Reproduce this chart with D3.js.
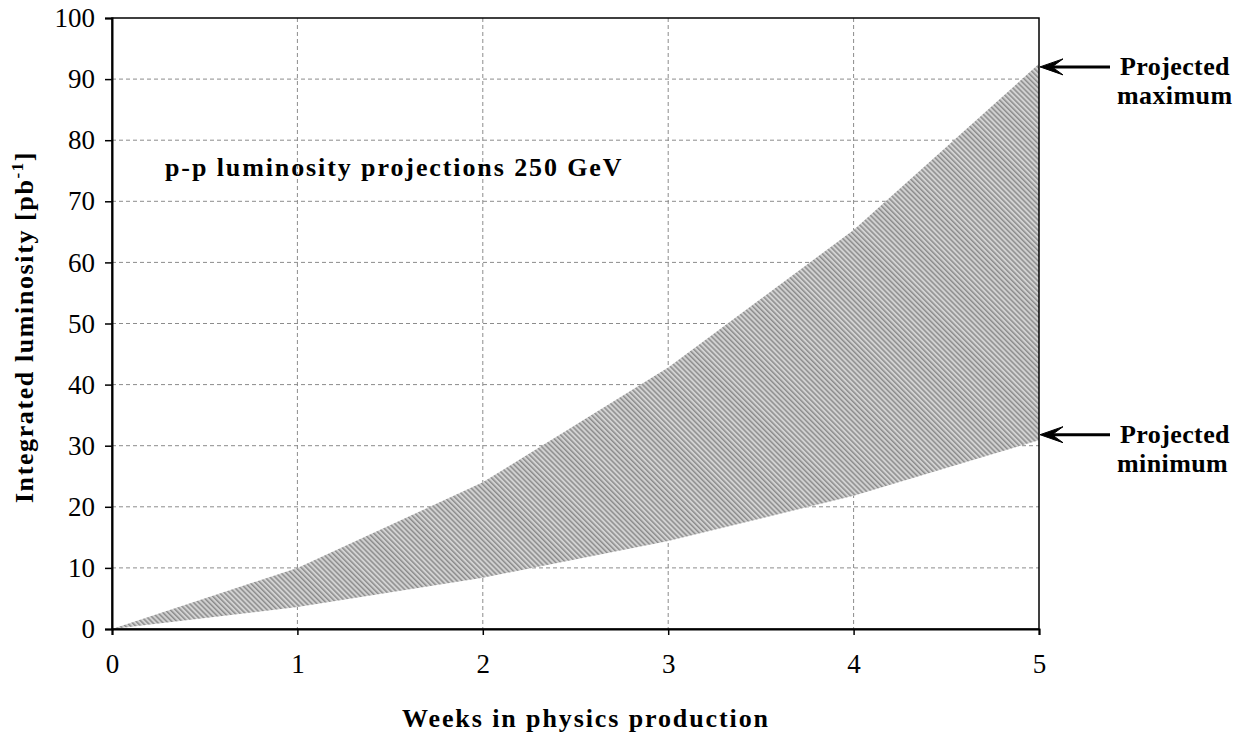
<!DOCTYPE html>
<html>
<head>
<meta charset="utf-8">
<script src="https://cdn.jsdelivr.net/npm/d3@7"></script>
<style>
  body { margin: 0; background: #fff; }
  svg text { font-family: "Liberation Serif", "Times New Roman", serif; }
  .tick text { font-size: 27px; fill: #000; }
  .grid line { stroke: #8c8c8c; stroke-dasharray: 4 3; }
  .bold { font-weight: bold; fill: #000; }
</style>
</head>
<body>
<svg id="chart"></svg>
<script>
// weeks in physics production
const weeks = [0, 1, 2, 3, 4, 5];
// projected luminosity [pb^-1]
const maxLumi = [0, 10, 24, 42.8, 65.3, 92.5];
const minLumi = [0, 3.6, 8.4, 14.4, 21.8, 30.9];
const yTicks = [0, 10, 20, 30, 40, 50, 60, 70, 80, 90, 100];

const W = 1247, H = 738;
const margin = { top: 18, right: 208, bottom: 109, left: 112 };
const width = W - margin.left - margin.right;
const height = H - margin.top - margin.bottom;

const svg = d3.select("#chart").attr("width", W).attr("height", H);

const defs = svg.append("defs");
const pat = defs.append("pattern")
  .attr("id", "hatch")
  .attr("patternUnits", "userSpaceOnUse")
  .attr("width", 3.6).attr("height", 3.6)
  .attr("patternTransform", "rotate(-45)");
pat.append("rect").attr("width", 3.6).attr("height", 3.6).attr("fill", "#d2d2d2");
pat.append("rect").attr("width", 1.5).attr("height", 3.6).attr("fill", "#8c8c8c");

const g = svg.append("g").attr("transform", `translate(${margin.left},${margin.top})`);

const x = d3.scaleLinear().domain([0, 5]).range([0, width]);
const y = d3.scaleLinear().domain([0, 100]).range([height, 0]);

// gridlines
g.append("g").attr("class", "grid")
  .selectAll("line").data(yTicks.slice(1, -1)).join("line")
  .attr("x1", 0).attr("x2", width)
  .attr("y1", d => y(d)).attr("y2", d => y(d));
g.append("g").attr("class", "grid")
  .selectAll("line").data(weeks.slice(1, -1)).join("line")
  .attr("y1", 0).attr("y2", height)
  .attr("x1", d => x(d)).attr("x2", d => x(d));

// band between projected minimum and maximum
const rows = weeks.map((w, i) => ({ w, lo: minLumi[i], hi: maxLumi[i] }));
const area = d3.area()
  .x(d => x(d.w))
  .y0(d => y(d.lo))
  .y1(d => y(d.hi));
g.append("path").datum(rows).attr("d", area).attr("fill", "url(#hatch)");

// frame
g.append("rect").attr("width", width).attr("height", height)
  .attr("fill", "none").attr("stroke", "#000").attr("stroke-width", 1.5);

// axes
const xAxis = d3.axisBottom(x).tickValues(weeks).tickSize(6).tickPadding(12).tickFormat(d3.format("d"));
const yAxis = d3.axisLeft(y).tickValues(yTicks).tickSize(7).tickPadding(10);

g.append("g").attr("transform", `translate(0,${height})`).call(xAxis)
  .call(a => a.select(".domain").attr("stroke-width", 2))
  .call(a => a.selectAll(".tick line").attr("stroke-width", 1.5))
  .call(a => a.selectAll(".tick text").attr("dy", "0.95em"));
g.append("g").call(yAxis)
  .call(a => a.select(".domain").attr("stroke-width", 2))
  .call(a => a.selectAll(".tick line").attr("stroke-width", 1.5));

// title inside plot
g.append("text").attr("class", "bold")
  .attr("x", 53).attr("y", 158)
  .style("font-size", "26px").style("letter-spacing", "1.9px")
  .text("p-p luminosity  projections 250 GeV");

// axis titles
svg.append("text").attr("class", "bold")
  .attr("x", 586).attr("y", 727)
  .attr("text-anchor", "middle")
  .style("font-size", "26px").style("letter-spacing", "1.9px")
  .text("Weeks in physics production");

const yl = svg.append("text").attr("class", "bold")
  .attr("transform", `translate(33,327) rotate(-90)`)
  .attr("text-anchor", "middle")
  .style("font-size", "26px").style("letter-spacing", "1.6px");
yl.append("tspan").text("Integrated luminosity [pb");
yl.append("tspan").attr("dy", -10).style("font-size", "17px").text("-1");
yl.append("tspan").attr("dy", 10).text("]");

// arrow annotations
const notes = [
  { v: 92, lines: ["Projected", "maximum"] },
  { v: 31.8, lines: ["Projected", "minimum"] }
];
notes.forEach(n => {
  const yy = margin.top + y(n.v);
  const tip = margin.left + width + 1;
  svg.append("line").attr("x1", 1110).attr("x2", tip + 12)
    .attr("y1", yy).attr("y2", yy)
    .attr("stroke", "#000").attr("stroke-width", 3);
  svg.append("path")
    .attr("d", `M${tip},${yy} L${tip + 23},${yy - 8} L${tip + 12},${yy} L${tip + 23},${yy + 8} Z`)
    .attr("fill", "#000").attr("stroke", "#000").attr("stroke-width", 1)
    .attr("stroke-linejoin", "miter");
  const t = svg.append("text").attr("class", "bold")
    .attr("x", 1120).attr("y", yy + 8)
    .style("font-size", "26px").style("letter-spacing", "0.4px");
  n.lines.forEach((s, i) => t.append("tspan").attr("x", i ? 1117 : 1120).attr("dy", i ? 29 : 0).text(s));
});
</script>
</body>
</html>
